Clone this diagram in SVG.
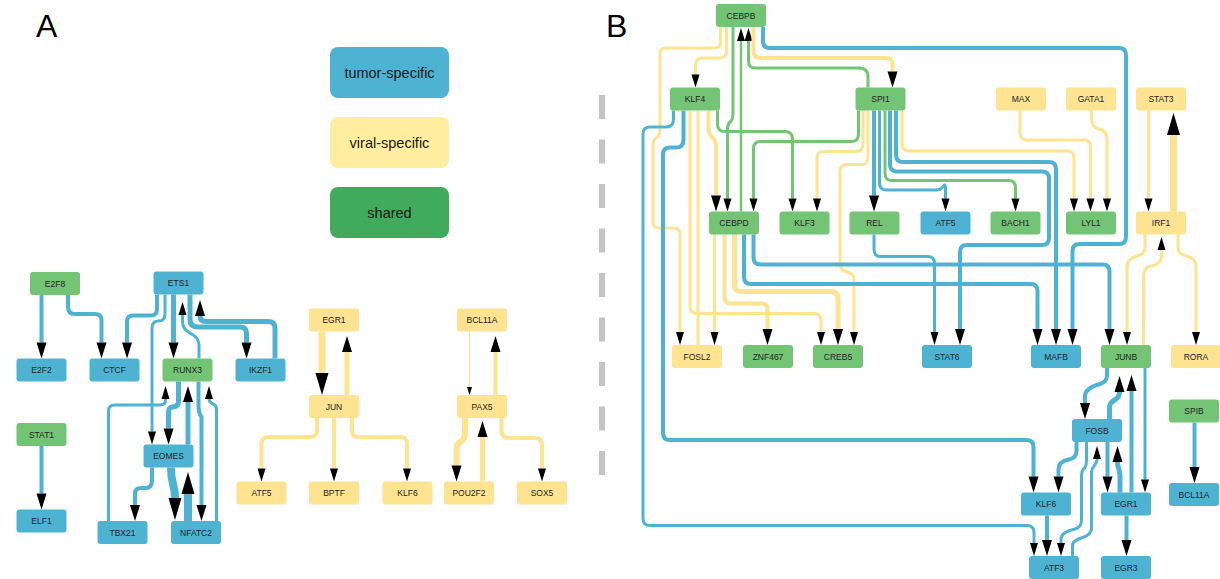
<svg xmlns="http://www.w3.org/2000/svg" width="1220" height="579" viewBox="0 0 1220 579">
<style>
.eb{fill:none;stroke:#4EB3D3}
.ey{fill:none;stroke:#FEE391}
.eg{fill:none;stroke:#74C476}
.nb{fill:#4EB3D3}
.ny{fill:#FEE391}
.ng{fill:#74C476}
.lbl{font-family:"Liberation Sans",Arial,sans-serif;font-size:8.5px;fill:#222;text-anchor:middle;dominant-baseline:central}
.leg{font-family:"Liberation Sans",Arial,sans-serif;font-size:14.5px;fill:#1a1a1a;text-anchor:middle;dominant-baseline:central}
.pl{font-family:"Liberation Sans",Arial,sans-serif;font-size:32px;fill:#000}
.w1{stroke-width:1}.w2{stroke-width:2.5}.w3{stroke-width:3}.w4{stroke-width:4}.w5{stroke-width:5}.w6{stroke-width:6}.w7{stroke-width:7}.w8{stroke-width:8}
.t{marker-end:url(#at)}.s{marker-end:url(#as)}.m{marker-end:url(#am)}.l{marker-end:url(#al)}
</style>
<defs>
<marker id="at" markerUnits="userSpaceOnUse" markerWidth="8" markerHeight="5" refX="0" refY="2.5" orient="auto" viewBox="0 0 8 5" overflow="visible"><path d="M0,0L8,2.5L0,5z" fill="#000"/></marker>
<marker id="as" markerUnits="userSpaceOnUse" markerWidth="13" markerHeight="8" refX="0" refY="4" orient="auto" viewBox="0 0 13 8" overflow="visible"><path d="M0,0L13,4L0,8z" fill="#000"/></marker>
<marker id="am" markerUnits="userSpaceOnUse" markerWidth="16" markerHeight="10" refX="0" refY="5" orient="auto" viewBox="0 0 16 10" overflow="visible"><path d="M0,0L16,5L0,10z" fill="#000"/></marker>
<marker id="al" markerUnits="userSpaceOnUse" markerWidth="22" markerHeight="13" refX="0" refY="6.5" orient="auto" viewBox="0 0 22 13" overflow="visible"><path d="M0,0L22,6.5L0,13z" fill="#000"/></marker>
</defs>
<rect width="1220" height="579" fill="#fff"/>
<text class="pl" x="36" y="37">A</text>
<text class="pl" x="606" y="37">B</text>
<line x1="602" y1="95" x2="602" y2="479" stroke="#C4C4C4" stroke-width="6" stroke-dasharray="24 20.5"/>
<g id="legend">
<g id="legend-tumor"><rect x="330" y="47" width="119" height="51" rx="8" fill="#4EB3D3"/><text class="leg" x="389.5" y="72.5">tumor-specific</text></g>
<g id="legend-viral"><rect x="330" y="117" width="119" height="51" rx="8" fill="#FFEDA0"/><text class="leg" x="389.5" y="142.5">viral-specific</text></g>
<g id="legend-shared"><rect x="330" y="187" width="119" height="51" rx="8" fill="#41AB5D"/><text class="leg" x="389.5" y="212.5">shared</text></g>
</g>
<g id="connectors">
<path class="eb w4 m" d="M41.5,294.5V342.5"/>
<path class="eb w4 m" d="M68,294.5V307Q68,314 75,314H95Q101.5,314 101.5,320V342.5"/>
<path class="eb w4 m" d="M157,294.5V309Q157,315.5 151,315.5H133Q127,315.5 127,321.5V342.5"/>
<path class="eb w3 s" d="M165,294.5V314Q165,321 158.5,321Q152,321 152,328V431.5"/>
<path class="eb w5 m" d="M173.5,294.5V342.5"/>
<path class="eb w3 s" d="M199,358.5V345C199,332 182.5,335 182.5,322V315"/>
<path class="eb w5 m" d="M190,294.5V319Q190,327 198,327H240Q246.5,327 246.5,333V342.5"/>
<path class="eb w5 m" d="M275,358.5V328Q275,321.5 268,321.5H206Q200,321.5 200,316"/>
<path class="eb w5 m" d="M178.5,381.5V401Q178.5,407 172.5,407Q168.5,407 168.5,413V428.5"/>
<path class="eb w5 m" d="M188,444.5V402"/>
<path class="eb w3 s" d="M108.5,521V411Q108.5,405 114.5,405H160Q165.5,405 165.5,400V399"/>
<path class="eb w4 m" d="M198.5,381.5V407Q198.5,413 201.5,417V505"/>
<path class="eb w3 s" d="M216.5,521V409C216.5,402 209,405 209,399"/>
<path class="eb w4 m" d="M152,467.5V481Q152,488 145,488H141Q135,488 135,494V505"/>
<path class="eb w8 l" d="M171,467.5C171,486 175,484 175,498"/>
<path class="eb w8 l" d="M188,521V494"/>
<path class="eb w4 m" d="M41.5,446V493.5"/>
<path class="ey w7 l" d="M322,331.5V373"/>
<path class="ey w5 m" d="M347,395V352"/>
<path class="ey w4 s" d="M317,418V430Q317,437 310,437H268Q261.5,437 261.5,444V468.5"/>
<path class="ey w4 s" d="M334,418V468.5"/>
<path class="ey w4 s" d="M352,418V430Q352,437 359,437H400Q407,437 407,444V468.5"/>
<path class="ey w1 t" d="M469.5,331.5V387"/>
<path class="ey w4 m" d="M495.5,395V352"/>
<path class="ey w6 m" d="M465,418V432Q465,440 460,442Q456.5,444 456.5,450V465.5"/>
<path class="ey w5 m" d="M482.5,481.5V437"/>
<path class="ey w4 s" d="M501.5,418V431Q501.5,438 509,438H535Q542,438 542,445V468.5"/>
<path class="ey w3 s" d="M720.5,27V42Q720.5,48 714.5,48H666Q660,48 660,54V130Q660,136 656,138Q653,140 653,145V222Q653,228 659,228H674Q680,228 680,234V332"/>
<path class="ey w3 s" d="M726.5,27V51Q726.5,58 719.5,58H702Q695.5,58 695.5,65V74.5"/>
<path class="eg w3 s" d="M733,27V113Q733,120 730,122Q727.5,124 727.5,129V198.5"/>
<path class="eg w2 s" d="M741,211.5V41"/>
<path class="eg w3 s" d="M868,87.5V77Q868,68 859,68H755Q748.5,68 748.5,61V41"/>
<path class="ey w4 m" d="M753.5,27V51Q753.5,58 760.5,58H885.5Q892.5,58 892.5,65V71.5"/>
<path class="eb w4 m" d="M763,27V41Q763,48 770,48H1119Q1126,48 1126,55V237Q1126,244 1119,244H1079.5Q1072.5,244 1072.5,251V329"/>
<path class="eb w3 s" d="M673.5,110.5V119Q673.5,127 666,127H650Q643,127 643,134V518.5Q643,525.5 650,525.5H1027Q1034,525.5 1034,532.5V543"/>
<path class="eb w4 m" d="M683.5,110.5V140Q683.5,147.5 676,147.5H670Q663,147.5 663,154.5V433Q663,440 670,440H1026.5Q1033.5,440 1033.5,447V476.5"/>
<path class="ey w3 s" d="M690,110.5V307Q690,313.5 697,313.5H814Q821,313.5 821,320.5V332"/>
<path class="ey w3" d="M698,110.5V345"/>
<path class="ey w4 m" d="M708.5,110.5V128Q708.5,134 712,137Q716,140 716,146V195.5"/>
<path class="eg w3 s" d="M717.5,110.5V124Q717.5,131.5 725,131.5H785Q792.5,131.5 792.5,139V198.5"/>
<path class="eg w3 s" d="M858.5,110.5V134Q858.5,141.5 851,141.5H760.5Q753.5,141.5 753.5,148.5V198.5"/>
<path class="ey w3 s" d="M863,110.5V144Q863,151.5 856,151.5H824Q817,151.5 817,158.5V198.5"/>
<path class="ey w3 s" d="M868,110.5V157.5Q868,164.5 861,164.5H847Q840,164.5 840,171.5V264Q840,270 846,271.5Q854,273.5 854,280V332"/>
<path class="ey w3 s" d="M714.5,234.5V332"/>
<path class="ey w4 m" d="M724.5,234.5V297Q724.5,303.5 731,303.5H761Q767.5,303.5 767.5,310V329"/>
<path class="ey w5 m" d="M734.5,234.5V285Q734.5,291.5 741,291.5H831Q838,291.5 838,298.5V329"/>
<path class="eb w4 m" d="M744,234.5V277Q744,284 751,284H1030.5Q1037.5,284 1037.5,291V329"/>
<path class="eb w4 m" d="M753.5,234.5V257.5Q753.5,264.5 760.5,264.5H1102.5Q1109.5,264.5 1109.5,271.5V329"/>
<path class="eb w4 m" d="M874,110.5V195.5"/>
<path class="eb w3 s" d="M879.5,110.5V183Q879.5,190 886.5,190H936Q941,190 943,186.5Q945.5,183 945.5,188V198.5"/>
<path class="eg w3 s" d="M885,110.5V173.5Q885,180.5 892,180.5H1008.5Q1015.5,180.5 1015.5,187.5V198.5"/>
<path class="eb w4 m" d="M890,110.5V164.5Q890,171.5 897,171.5H1042Q1049,171.5 1049,178.5V238Q1049,245 1042,245H967Q960,245 960,252V329"/>
<path class="eb w4 m" d="M896,110.5V155Q896,162 903,162H1049Q1056,162 1056,169V329"/>
<path class="ey w3 s" d="M902,110.5V144Q902,151 909,151H1067Q1074,151 1074,158V198.5"/>
<path class="eb w3 s" d="M874,234.5V249.5Q874,256.5 881,256.5H927.5Q934.5,256.5 934.5,263.5V332"/>
<path class="ey w3 s" d="M1020,110.5V133Q1020,140 1027,140H1083.5Q1090.5,140 1090.5,147V198.5"/>
<path class="ey w3 s" d="M1091.5,110.5V119Q1091.5,127 1099,129Q1107,131 1107,139V198.5"/>
<path class="ey w3 s" d="M1148.5,110.5V198.5"/>
<path class="ey w7 l" d="M1173.5,211.5V135"/>
<path class="ey w3 s" d="M1145,234.5V247Q1145,254 1137,256Q1127,259 1127,266V332"/>
<path class="ey w3 s" d="M1143.5,345V276Q1143.5,268 1151,266Q1161.5,264 1161.5,256V250"/>
<path class="ey w3 s" d="M1178,234.5V247Q1178,254 1186,256Q1196,258 1196,266V332"/>
<path class="eb w4 m" d="M1107,368V375Q1107,382 1100,384Q1085,388 1085,396V403"/>
<path class="eb w5 m" d="M1109.5,419V408C1109.5,398 1119.5,402 1119.5,392"/>
<path class="eb w4 m" d="M1131.5,492.5V391"/>
<path class="eb w3 s" d="M1145,368V479.5"/>
<path class="eb w4 m" d="M1076.5,442V451Q1076.5,458 1069,459.5Q1058.5,461.5 1058.5,469V476.5"/>
<path class="eb w3 s" d="M1086.5,442V460Q1086.5,467 1083.5,469Q1081.5,471 1081.5,476V520Q1081.5,527 1075,529Q1061,532 1061,539V543"/>
<path class="eb w3 s" d="M1072.5,556V546C1072.5,536 1091.5,540 1091.5,528V472C1091.5,466 1097,466 1097,459"/>
<path class="eb w4 m" d="M1107.5,442V476.5"/>
<path class="eb w5 m" d="M1120,492.5V476C1120,469 1117.5,469 1117.5,462"/>
<path class="eb w4 m" d="M1047,515.5V540"/>
<path class="eb w4 m" d="M1126.5,515.5V540"/>
<path class="eb w4 m" d="M1194.5,422.5V467"/>
</g>
<g id="a-E2F8"><rect class="ng" x="30" y="272" width="50" height="23" rx="3"/><text class="lbl" x="55" y="283.5">E2F8</text></g>
<g id="a-ETS1"><rect class="nb" x="153.5" y="271.5" width="50" height="23" rx="3"/><text class="lbl" x="178.5" y="283">ETS1</text></g>
<g id="a-E2F2"><rect class="nb" x="16.5" y="358.5" width="50" height="23" rx="3"/><text class="lbl" x="41.5" y="370">E2F2</text></g>
<g id="a-CTCF"><rect class="nb" x="89.5" y="358.5" width="50" height="23" rx="3"/><text class="lbl" x="114.5" y="370">CTCF</text></g>
<g id="a-RUNX3"><rect class="ng" x="162.5" y="358.5" width="50" height="23" rx="3"/><text class="lbl" x="187.5" y="370">RUNX3</text></g>
<g id="a-IKZF1"><rect class="nb" x="235.5" y="358.5" width="50" height="23" rx="3"/><text class="lbl" x="260.5" y="370">IKZF1</text></g>
<g id="a-STAT1"><rect class="ng" x="16.5" y="423" width="50" height="23" rx="3"/><text class="lbl" x="41.5" y="434.5">STAT1</text></g>
<g id="a-EOMES"><rect class="nb" x="143.5" y="444.5" width="50" height="23" rx="3"/><text class="lbl" x="168.5" y="456">EOMES</text></g>
<g id="a-ELF1"><rect class="nb" x="16.5" y="509.5" width="50" height="23" rx="3"/><text class="lbl" x="41.5" y="521">ELF1</text></g>
<g id="a-TBX21"><rect class="nb" x="97.5" y="521" width="50" height="23" rx="3"/><text class="lbl" x="122.5" y="532.5">TBX21</text></g>
<g id="a-NFATC2"><rect class="nb" x="171" y="521" width="50" height="23" rx="3"/><text class="lbl" x="196" y="532.5">NFATC2</text></g>
<g id="a-ATF5"><rect class="ny" x="236.5" y="481.5" width="50" height="23" rx="3"/><text class="lbl" x="261.5" y="493">ATF5</text></g>
<g id="a-EGR1"><rect class="ny" x="309" y="308.5" width="50" height="23" rx="3"/><text class="lbl" x="334" y="320">EGR1</text></g>
<g id="a-BCL11A"><rect class="ny" x="457" y="308.5" width="50" height="23" rx="3"/><text class="lbl" x="482" y="320">BCL11A</text></g>
<g id="a-JUN"><rect class="ny" x="309" y="395" width="50" height="23" rx="3"/><text class="lbl" x="334" y="406.5">JUN</text></g>
<g id="a-PAX5"><rect class="ny" x="457" y="395" width="50" height="23" rx="3"/><text class="lbl" x="482" y="406.5">PAX5</text></g>
<g id="a-BPTF"><rect class="ny" x="309" y="481.5" width="50" height="23" rx="3"/><text class="lbl" x="334" y="493">BPTF</text></g>
<g id="a-KLF6"><rect class="ny" x="382.5" y="481.5" width="50" height="23" rx="3"/><text class="lbl" x="407.5" y="493">KLF6</text></g>
<g id="a-POU2F2"><rect class="ny" x="444" y="481.5" width="50" height="23" rx="3"/><text class="lbl" x="469" y="493">POU2F2</text></g>
<g id="a-SOX5"><rect class="ny" x="517" y="481.5" width="50" height="23" rx="3"/><text class="lbl" x="542" y="493">SOX5</text></g>
<g id="b-CEBPB"><rect class="ng" x="716" y="4" width="50" height="23" rx="3"/><text class="lbl" x="741" y="15.5">CEBPB</text></g>
<g id="b-KLF4"><rect class="ng" x="670" y="87.5" width="50" height="23" rx="3"/><text class="lbl" x="695" y="99">KLF4</text></g>
<g id="b-SPI1"><rect class="ng" x="855.5" y="87.5" width="50" height="23" rx="3"/><text class="lbl" x="880.5" y="99">SPI1</text></g>
<g id="b-MAX"><rect class="ny" x="996" y="87.5" width="50" height="23" rx="3"/><text class="lbl" x="1021" y="99">MAX</text></g>
<g id="b-GATA1"><rect class="ny" x="1066" y="87.5" width="50" height="23" rx="3"/><text class="lbl" x="1091" y="99">GATA1</text></g>
<g id="b-STAT3"><rect class="ny" x="1136" y="87.5" width="50" height="23" rx="3"/><text class="lbl" x="1161" y="99">STAT3</text></g>
<g id="b-CEBPD"><rect class="ng" x="709" y="211.5" width="50" height="23" rx="3"/><text class="lbl" x="734" y="223">CEBPD</text></g>
<g id="b-KLF3"><rect class="ng" x="779.5" y="211.5" width="50" height="23" rx="3"/><text class="lbl" x="804.5" y="223">KLF3</text></g>
<g id="b-REL"><rect class="ng" x="849.5" y="211.5" width="50" height="23" rx="3"/><text class="lbl" x="874.5" y="223">REL</text></g>
<g id="b-ATF5"><rect class="nb" x="920.5" y="211.5" width="50" height="23" rx="3"/><text class="lbl" x="945.5" y="223">ATF5</text></g>
<g id="b-BACH1"><rect class="ng" x="990.5" y="211.5" width="50" height="23" rx="3"/><text class="lbl" x="1015.5" y="223">BACH1</text></g>
<g id="b-LYL1"><rect class="ng" x="1066" y="211.5" width="50" height="23" rx="3"/><text class="lbl" x="1091" y="223">LYL1</text></g>
<g id="b-IRF1"><rect class="ny" x="1136" y="211.5" width="50" height="23" rx="3"/><text class="lbl" x="1161" y="223">IRF1</text></g>
<g id="b-FOSL2"><rect class="ny" x="672" y="345" width="50" height="23" rx="3"/><text class="lbl" x="697" y="356.5">FOSL2</text></g>
<g id="b-ZNF467"><rect class="ng" x="743" y="345" width="50" height="23" rx="3"/><text class="lbl" x="768" y="356.5">ZNF467</text></g>
<g id="b-CREB5"><rect class="ng" x="813" y="345" width="50" height="23" rx="3"/><text class="lbl" x="838" y="356.5">CREB5</text></g>
<g id="b-STAT6"><rect class="nb" x="922" y="345" width="50" height="23" rx="3"/><text class="lbl" x="947" y="356.5">STAT6</text></g>
<g id="b-MAFB"><rect class="nb" x="1031" y="345" width="50" height="23" rx="3"/><text class="lbl" x="1056" y="356.5">MAFB</text></g>
<g id="b-JUNB"><rect class="ng" x="1101" y="345" width="50" height="23" rx="3"/><text class="lbl" x="1126" y="356.5">JUNB</text></g>
<g id="b-RORA"><rect class="ny" x="1171" y="345" width="50" height="23" rx="3"/><text class="lbl" x="1196" y="356.5">RORA</text></g>
<g id="b-SPIB"><rect class="ng" x="1169" y="399.5" width="50" height="23" rx="3"/><text class="lbl" x="1194" y="411">SPIB</text></g>
<g id="b-FOSB"><rect class="nb" x="1072" y="419" width="50" height="23" rx="3"/><text class="lbl" x="1097" y="430.5">FOSB</text></g>
<g id="b-KLF6"><rect class="nb" x="1021" y="492.5" width="50" height="23" rx="3"/><text class="lbl" x="1046" y="504">KLF6</text></g>
<g id="b-EGR1"><rect class="nb" x="1101" y="492.5" width="50" height="23" rx="3"/><text class="lbl" x="1126" y="504">EGR1</text></g>
<g id="b-BCL11A"><rect class="nb" x="1169" y="483" width="50" height="23" rx="3"/><text class="lbl" x="1194" y="494.5">BCL11A</text></g>
<g id="b-ATF3"><rect class="nb" x="1029" y="556" width="50" height="23" rx="3"/><text class="lbl" x="1054" y="567.5">ATF3</text></g>
<g id="b-EGR3"><rect class="nb" x="1101" y="556" width="50" height="23" rx="3"/><text class="lbl" x="1126" y="567.5">EGR3</text></g>
</svg>
